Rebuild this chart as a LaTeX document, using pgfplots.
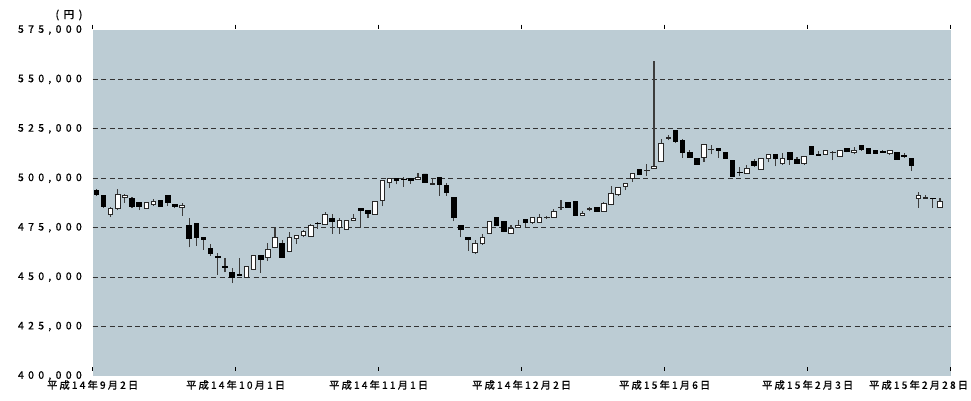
\documentclass[border=0pt]{standalone}
\usepackage{fontspec}
\setmainfont{Noto Sans CJK JP}
\newfontfamily\ylfont{Noto Sans CJK JP}[LetterSpace=42, FakeBold=1.2]
\newfontfamily\xlfont{Noto Sans CJK JP}[LetterSpace=22, FakeBold=1.2]
\usepackage{pgfplots}
\usepackage{pgfplotstable}
\pgfplotsset{compat=1.18}
\definecolor{bgc}{RGB}{188,204,212}
\definecolor{gridc}{RGB}{50,50,50}
\definecolor{wickc}{RGB}{60,60,60}
\definecolor{edgec}{RGB}{40,40,40}

\pgfplotstableread{
i O H L C
0 493960 494460 491100 491610
1 491100 491400 485200 485570
2 481880 485240 480200 484900
3 484900 494800 483900 491950
4 490270 491950 487750 491270
5 489930 490770 484900 485740
6 487920 488000 483900 485900
7 484900 487920 484900 487920
8 486900 489770 486070 488100
9 488900 488900 485900 485900
10 491100 491440 485900 487750
11 486900 486900 484900 485740
12 485070 487750 481040 486240
13 476000 479860 465100 469800
14 477180 477180 465940 470130
15 470130 470130 463920 468960
16 464260 466780 460900 461740
17 460400 462080 451170 459900
18 455200 459730 452500 455000
19 452180 454700 446970 449660
20 451170 459730 450670 450670
21 450000 455370 450000 455370
22 453900 461240 453500 460900
23 460900 460900 452180 458890
24 459730 467110 458390 463920
25 464930 475000 464600 470130
26 467110 468790 459730 459730
27 462920 472980 462580 470130
28 469630 471000 466950 470970
29 471000 473820 470130 472980
30 470800 476840 470640 476000
31 477180 477680 474330 477000
32 476840 482720 476840 481880
33 479690 481880 471970 478350
34 475000 479860 471970 478860
35 474000 478860 474000 478860
36 478520 481880 478520 479690
37 484730 484730 475000 483720
38 483890 483890 479860 482210
39 481710 488090 481710 488090
40 488760 499000 485910 499000
41 497820 500000 494970 500000
42 500000 500000 496980 498660
43 499500 500670 495800 499330
44 499660 499660 497150 499000
45 499160 502700 499160 500500
46 502180 502180 497990 497990
47 496800 499660 496800 497300
48 500170 500170 491270 496810
49 496310 497650 491270 492950
50 490100 490100 478180 480030
51 476170 476170 470130 474160
52 470300 470300 463250 469130
53 462250 468630 461910 466950
54 466950 471970 466440 470300
55 472310 478180 472310 478180
56 480030 480030 476170 476170
57 478180 478180 472810 473150
58 472310 476170 471970 474830
59 475000 479020 475000 476170
60 479020 479020 475330 477850
61 477850 480030 477010 480030
62 477850 482050 477850 480030
63 480030 480700 479360 480200
64 480030 484560 480030 483220
65 485070 489100 484060 485240
66 487920 487920 485070 485070
67 488420 488420 481370 481370
68 481200 483390 481200 482210
69 484400 485570 483220 484500
70 485400 485400 483050 483050
71 483050 488080 483050 487250
72 486910 496140 486410 492280
73 491780 495300 491110 495300
74 495970 497310 493960 497310
75 500000 502350 498150 502350
76 504360 504360 502010 502010
77 504020 507040 501180 504190
78 504860 559200 504860 506200
79 508720 519970 508220 517450
80 520300 521980 519130 520470
81 524160 524160 517950 518790
82 519130 519970 510400 512920
83 513250 514090 510400 510740
84 510230 510230 507040 507040
85 510400 517110 508220 517110
86 514590 516940 512080 514760
87 515270 515270 510400 514090
88 513250 513250 509890 509890
89 509230 509230 500840 500840
90 503020 505870 501340 502850
91 502680 506880 502680 505030
92 508390 509730 505870 506710
93 504700 510070 504700 510070
94 509900 511910 508050 511910
95 512250 512250 506040 510240
96 507720 512580 506880 510070
97 513090 513090 506880 509730
98 509400 510910 507720 507720
99 507720 511070 506880 511070
100 516110 516110 511910 511910
101 512250 513930 511580 511580
102 511910 513930 511910 513930
103 513090 513590 509230 513260
104 510910 513930 510570 513930
105 515100 515100 513090 513590
106 512920 515940 512080 514260
107 516440 516940 513930 514760
108 515100 515100 512250 512580
109 514260 514260 512750 512750
110 513500 514200 512900 513300
111 512580 514260 511910 514260
112 513090 513090 509730 509730
113 511400 512580 510400 511230
114 510070 510070 503860 506710
115 489930 492950 485070 491270
116 490000 491780 489600 490100
117 489930 489930 485070 489760
118 485070 490100 485070 488420
}\data

\begin{document}
\begin{tikzpicture}
\path[use as bounding box] (-69.525pt,-18pt) rectangle (658.725pt,282pt);
\begin{axis}[
  at={(0pt,0pt)}, anchor=south west,
  scale only axis, width=643.5pt, height=259.5pt,
  xmin=-0.5, xmax=119.5, ymin=400000, ymax=575000,
  enlargelimits=false,
  axis background/.style={fill=bgc},
  axis line style={draw=none},
  scaled y ticks=false,
  ytick={425000,450000,475000,500000,525000,550000},
  yticklabels={{425,000},{450,000},{475,000},{500,000},{525,000},{550,000}},
  extra y ticks={400000,575000},
  extra y tick labels={{400,000},{575,000}},
  extra y tick style={grid=none},
  ymajorgrids=true,
  grid style={dash pattern=on 3.75pt off 2.6pt, line width=0.75pt, color=gridc},
  ytick style={draw=none},
  yticklabel style={anchor=east, inner sep=0pt, xshift=-8pt, font=\fontsize{7.8pt}{9pt}\ylfont},
  xtick={-0.5,19.5,39.5,59.5,79.5,99.5,119.5},
  xticklabels={平成14年9月2日,平成14年10月1日,平成14年11月1日,平成14年12月2日,平成15年1月6日,平成15年2月3日,{}},
  xticklabel style={anchor=north, inner sep=0pt, yshift=-3pt, font=\fontsize{7.6pt}{9pt}\xlfont},
  tick align=inside,
  major tick length=3pt,
  xtick style={draw=black, line width=0.75pt, yshift=4pt},
  clip=false,
]
\addplot[draw=none, mark=none, forget plot,
  error bars/.cd, y dir=plus, y explicit, error mark=none,
  error bar style={draw=wickc, solid, line width=0.8pt}]
  table[x=i, y=L, y error expr=\thisrow{H}-\thisrow{L}]{\data};
\node[anchor=north east, inner sep=0pt, font=\fontsize{7.6pt}{9pt}\xlfont] at ([xshift=13.2pt, yshift=-3pt]rel axis cs:1,0) {平成15年2月28日};
\node[inner sep=0pt, font=\fontsize{7.8pt}{9pt}\ylfont] at ([xshift=-17.8pt, yshift=11.25pt]rel axis cs:0,1) {(\hspace{3.5pt}円\hspace{3.5pt})};
\end{axis}
\begin{axis}[
  at={(0pt,0pt)}, anchor=south west,
  scale only axis, width=643.5pt, height=259.5pt,
  xmin=-0.5, xmax=119.5, ymin=400000, ymax=575000,
  enlargelimits=false,
  hide axis,
  ybar stacked, bar width=3.4pt,
]
\addplot[draw=none, fill=none] table[x=i, y expr={min(\thisrow{O},\thisrow{C})}]{\data};
\addplot[fill=white, draw=edgec, line width=0.7pt] table[x=i, y expr={max(\thisrow{C}-\thisrow{O},0)}]{\data};
\addplot[fill=black, draw=black, line width=0.7pt] table[x=i, y expr={max(\thisrow{O}-\thisrow{C},0)}]{\data};
\end{axis}
\end{tikzpicture}
\end{document}
